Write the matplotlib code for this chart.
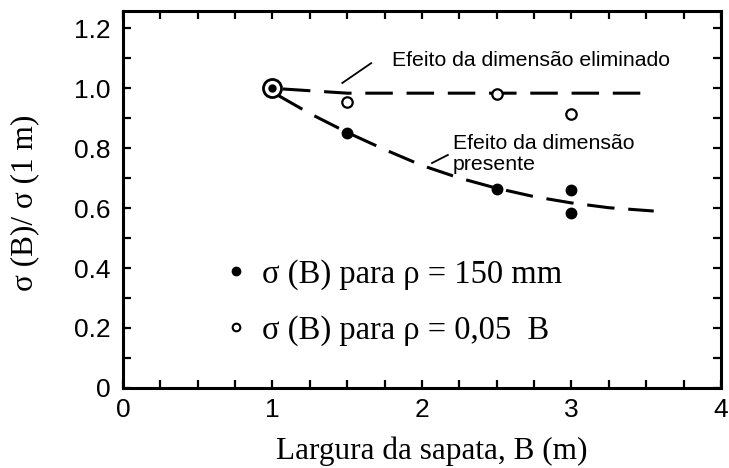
import matplotlib
matplotlib.use("Agg")
import matplotlib.pyplot as plt
from matplotlib.ticker import MultipleLocator
from matplotlib.lines import Line2D

# Measured bearing pressure ratios sigma(B)/sigma(1 m)
B_150mm = [1.5, 2.5, 3.0, 3.0]
ratio_150mm = [0.85, 0.665, 0.66, 0.585]

B_005B = [1.5, 2.5, 3.0]
ratio_005B = [0.955, 0.98, 0.915]

# Reference footing (B = 1 m), common to both series
B_ref = [1.0]
ratio_ref = [1.0]

# Trend curves
trend_elim_B = [1.07, 1.5, 3.48]
trend_elim = [0.997, 0.983, 0.983]

trend_pres_B = [1.04, 1.25, 1.5, 1.75, 2.0, 2.25, 2.5, 2.75, 3.0, 3.25, 3.55]
trend_pres = [0.975, 0.915, 0.852, 0.795, 0.742, 0.700, 0.666, 0.638, 0.617, 0.601, 0.590]

y_ticks = [0, 0.2, 0.4, 0.6, 0.8, 1.0, 1.2]
y_tick_labels = ["0", "0.2", "0.4", "0.6", "0.8", "1.0", "1.2"]
x_ticks = [0, 1, 2, 3, 4]
x_tick_labels = ["0", "1", "2", "3", "4"]

label_150 = "σ (B) para ρ = 150 mm"
label_005 = "σ (B) para ρ = 0,05  B"
note_elim = "Efeito da dimensão eliminado"
note_pres = "Efeito da dimensão\npresente"

sans = ["Liberation Sans", "DejaVu Sans"]
serif = ["Liberation Serif", "DejaVu Serif"]

fig = plt.figure(figsize=(7.29, 4.68), dpi=100)
ax = fig.add_axes([0.1687, 0.171, 0.8203, 0.8055])

dash = (0, (9, 4.5))
ax.plot(trend_elim_B, trend_elim, color="black", lw=2.2, linestyle=dash)
ax.plot(trend_pres_B, trend_pres, color="black", lw=2.2, linestyle=dash)

ax.plot(B_150mm, ratio_150mm, linestyle="none", marker="o", ms=7.5,
        color="black", zorder=3)
ax.plot(B_005B, ratio_005B, linestyle="none", marker="o", ms=7.5,
        mfc="white", mec="black", mew=1.6, zorder=3)
ax.plot(B_ref, ratio_ref, linestyle="none", marker="o", ms=13,
        mfc="white", mec="black", mew=2.0, zorder=3)
ax.plot(B_ref, ratio_ref, linestyle="none", marker="o", ms=5,
        color="black", zorder=4)

# Annotations
ax.plot([1.467, 1.66], [1.017, 1.083], color="black", lw=1.3)
ax.text(1.80, 1.093, note_elim, family=sans, fontsize=15.3, va="center", ha="left")
ax.plot([2.067, 2.173], [0.75, 0.777], color="black", lw=1.3)
ax.text(2.207, 0.781, note_pres, family=sans, fontsize=15.3, va="center", ha="left",
        linespacing=1.15)

# Legend
h150 = Line2D([], [], linestyle="none", marker="o", ms=6, color="black")
h005 = Line2D([], [], linestyle="none", marker="o", ms=5.5, mfc="white",
              mec="black", mew=1.5)
ax.legend([h150, h005], [label_150, label_005], loc="center left",
          bbox_to_anchor=(0.123, 0.227), frameon=False, handlelength=0.6,
          handletextpad=0.5, labelspacing=0.78,
          prop={"family": serif, "size": 23.5})

ax.set_xlim(0, 4)
ax.set_ylim(0, 1.257)
ax.xaxis.set_minor_locator(MultipleLocator(0.25))
ax.yaxis.set_minor_locator(MultipleLocator(0.1))
ax.set_yticks(y_ticks)
ax.set_yticklabels(y_tick_labels)
ax.set_xticks(x_ticks)
ax.set_xticklabels(x_tick_labels)

for sp in ax.spines.values():
    sp.set_linewidth(2.2)
ax.tick_params(which="both", direction="in", top=True, right=True,
               length=6, width=1.6)
ax.tick_params(axis="x", which="major", labelsize=19, pad=7)
ax.tick_params(axis="y", which="major", labelsize=19, pad=9)
for lab in ax.get_xticklabels() + ax.get_yticklabels():
    lab.set_family(sans)

ax.set_xlabel("Largura da sapata, B (m)", family=serif, fontsize=22.5,
              labelpad=11, x=0.517)
ax.set_ylabel("σ (B)/ σ (1 m)", family=serif, fontsize=22.5,
              labelpad=25, y=0.49)

fig.savefig("out.png", dpi=100, facecolor="white")
